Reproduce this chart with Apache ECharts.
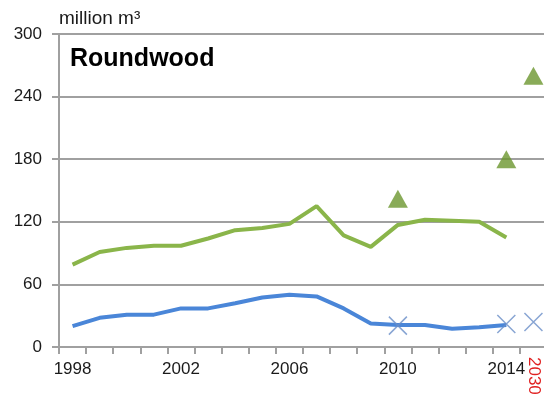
<!DOCTYPE html>
<html>
<head>
<meta charset="utf-8">
<script src="https://cdn.jsdelivr.net/npm/echarts@6/dist/echarts.min.js"></script>
<style>
html,body{margin:0;padding:0;background:#fff;overflow:hidden;}
#c{width:548px;height:403px;}
</style>
</head>
<body>
<div id="c"></div>
<script>
var categories = ['1998','1999','2000','2001','2002','2003','2004','2005','2006','2007','2008','2009','2010','2011','2012','2013','2014','2030'];
var greenLine = [79,91,95,97,97,104,112,114,118,135,107,96,117,122,121,120,105,'-'];
var blueLine = [20,28,31,31,37,37,42,47.5,50,48.5,37,22.5,21,21,17.5,19,21,'-'];
var triangles = ['-','-','-','-','-','-','-','-','-','-','-','-',142,'-','-','-',180,260];
var crosses = ['-','-','-','-','-','-','-','-','-','-','-','-',20.5,'-','-','-',22,24];
var yTicks = {min:0, max:300, interval:60};

var chart = echarts.init(document.getElementById('c'));
var font = 'Liberation Sans, Arial, sans-serif';
chart.setOption({
  animation:false,
  textStyle:{fontFamily:font},
  title:[
    {text:'Roundwood', left:70, top:47, padding:0, textStyle:{fontSize:25, fontWeight:'bold', color:'#000', fontFamily:font}},
    {text:'million m³', left:59, top:9, padding:0, textStyle:{fontSize:19, fontWeight:'normal', color:'#1a1a1a', fontFamily:font}}
  ],
  grid:{left:59, top:34, width:488, height:313, containLabel:false},
  xAxis:[{
    type:'category', data:categories, boundaryGap:true,
    axisLine:{lineStyle:{color:'#a0a0a0', width:2}},
    axisTick:{show:true, interval:0, length:7, lineStyle:{color:'#a0a0a0', width:2}},
    axisLabel:{interval:function(i){return i%4===0 && i<17;}, margin:14, fontSize:17, color:'#1a1a1a', fontFamily:font},
    splitLine:{show:false}
  },{
    type:'category', data:categories, boundaryGap:true, position:'bottom',
    axisLine:{show:false}, axisTick:{show:false}, splitLine:{show:false},
    axisLabel:{interval:function(i){return i===17;}, rotate:-90, margin:10, fontSize:17, color:'#e02020', fontFamily:font}
  }],
  yAxis:{
    type:'value', min:yTicks.min, max:yTicks.max, interval:yTicks.interval,
    axisLine:{show:true, lineStyle:{color:'#a0a0a0', width:2}},
    axisTick:{show:true, length:7, lineStyle:{color:'#a0a0a0', width:2}},
    axisLabel:{margin:17, fontSize:17, color:'#1a1a1a', fontFamily:font},
    splitLine:{lineStyle:{color:'#a0a0a0', width:2}}
  },
  series:[
    {type:'line', data:greenLine, symbol:'none', lineStyle:{color:'#8ab54a', width:4}, z:3},
    {type:'line', data:blueLine, symbol:'none', lineStyle:{color:'#4a86d8', width:4}, z:3},
    {type:'scatter', data:triangles, symbol:'triangle', symbolSize:[20,18], itemStyle:{color:'#6b962e'}, z:4},
    {type:'scatter', data:crosses, symbol:'path://M0,0L10,10M10,0L0,10', symbolSize:18,
      itemStyle:{color:'none', borderColor:'#6a8ec8', borderWidth:1.5}, z:4}
  ]
});
</script>
</body>
</html>
